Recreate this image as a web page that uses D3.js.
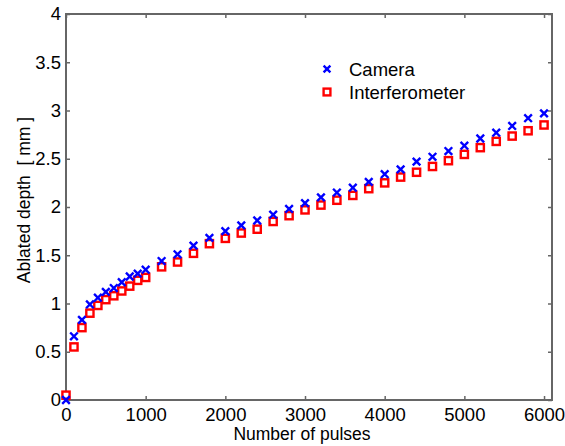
<!DOCTYPE html>
<html>
<head>
<meta charset="utf-8">
<script src="https://cdn.jsdelivr.net/npm/d3@7"></script>
<style>
  html, body { margin: 0; padding: 0; background: #fff; }
  text { font-family: "Liberation Sans", Arial, sans-serif; fill: #000; }
</style>
</head>
<body>
<svg id="chart" width="565" height="446"></svg>
<script>
const pulses = [0, 100, 200, 300, 400, 500, 600, 700, 800, 900, 1000,
  1200, 1400, 1600, 1800, 2000, 2200, 2400, 2600, 2800, 3000,
  3200, 3400, 3600, 3800, 4000, 4200, 4400, 4600, 4800, 5000,
  5200, 5400, 5600, 5800, 6000];
const camera = [0.00, 0.66, 0.83, 0.99, 1.06, 1.12, 1.16, 1.22, 1.28, 1.31, 1.35,
  1.44, 1.51, 1.60, 1.68, 1.75, 1.81, 1.86, 1.92, 1.98, 2.04,
  2.10, 2.15, 2.20, 2.26, 2.34, 2.39, 2.47, 2.52, 2.58, 2.635,
  2.71, 2.77, 2.84, 2.92, 2.97];
const interferometer = [0.05, 0.55, 0.75, 0.90, 0.98, 1.04, 1.08, 1.13, 1.18, 1.24, 1.27,
  1.38, 1.43, 1.52, 1.62, 1.675, 1.73, 1.77, 1.85, 1.91, 1.97,
  2.02, 2.07, 2.12, 2.19, 2.25, 2.31, 2.36, 2.42, 2.48, 2.545,
  2.615, 2.68, 2.735, 2.79, 2.85];
const xTicks = [0, 1000, 2000, 3000, 4000, 5000, 6000];
const yTicks = [0, 0.5, 1, 1.5, 2, 2.5, 3, 3.5, 4];
const seriesNames = ["Camera", "Interferometer"];

const svg = d3.select("#chart");
const mLeft = 66, mRight = 552, mTop = 14, mBottom = 400;
const x = d3.scaleLinear().domain([0, 6100]).range([mLeft, mRight]);
const y = d3.scaleLinear().domain([0, 4]).range([mBottom, mTop]);
const axisColor = "#666";
const fontFam = "Liberation Sans, Arial, sans-serif";

// Frame
svg.append("rect").attr("x", mLeft).attr("y", mTop)
  .attr("width", mRight - mLeft).attr("height", mBottom - mTop)
  .attr("fill", "#fff").attr("stroke", axisColor).attr("stroke-width", 2);

// Bottom axis (ticks inward)
const gx = svg.append("g").attr("transform", `translate(0,${mBottom})`)
  .call(d3.axisBottom(x).tickValues(xTicks).tickSizeInner(-4).tickSizeOuter(0).tickPadding(8).tickFormat(d3.format("d")));
gx.select(".domain").remove();
gx.selectAll("line").attr("stroke", axisColor).attr("stroke-width", 1.5);
gx.selectAll("text").style("font-size", "18.5px").attr("fill", "#000").attr("font-family", fontFam);

// Top ticks
const gxt = svg.append("g").attr("transform", `translate(0,${mTop})`)
  .call(d3.axisTop(x).tickValues(xTicks).tickSizeInner(-4).tickSizeOuter(0).tickFormat(""));
gxt.select(".domain").remove();
gxt.selectAll("line").attr("stroke", axisColor).attr("stroke-width", 1.5);

// Left axis
const gy = svg.append("g").attr("transform", `translate(${mLeft},0)`)
  .call(d3.axisLeft(y).tickValues(yTicks).tickSizeInner(-4).tickSizeOuter(0).tickPadding(5).tickFormat(d3.format("")));
gy.select(".domain").remove();
gy.selectAll("line").attr("stroke", axisColor).attr("stroke-width", 1.5);
gy.selectAll("text").style("font-size", "18.5px").attr("fill", "#000").attr("font-family", fontFam);

// Right ticks
const gyr = svg.append("g").attr("transform", `translate(${mRight},0)`)
  .call(d3.axisRight(y).tickValues(yTicks).tickSizeInner(-4).tickSizeOuter(0).tickFormat(""));
gyr.select(".domain").remove();
gyr.selectAll("line").attr("stroke", axisColor).attr("stroke-width", 1.5);

// Axis labels
svg.append("text").attr("x", 302).attr("y", 440)
  .attr("text-anchor", "middle").style("font-size", "17.5px").text("Number of pulses");
svg.append("text").attr("transform", `translate(30,200) rotate(-90)`)
  .attr("text-anchor", "middle").style("font-size", "17.5px").style("white-space", "pre")
  .text("Ablated depth  [ mm ]");

// Markers
const cross = (g, cx, cy, s) => {
  g.append("path").attr("d", `M${cx - s},${cy - s}L${cx + s},${cy + s}M${cx - s},${cy + s}L${cx + s},${cy - s}`)
    .attr("stroke", "#0000ff").attr("stroke-width", 2.4).attr("fill", "none");
};
const square = (g, cx, cy, s) => {
  g.append("rect").attr("x", cx - s).attr("y", cy - s).attr("width", 2 * s).attr("height", 2 * s)
    .attr("stroke", "#ff0000").attr("stroke-width", 2.4).attr("fill", "#fff");
};

const gi = svg.append("g");
pulses.forEach((p, i) => square(gi, x(p), y(interferometer[i]), 3.6));
const gc = svg.append("g");
pulses.forEach((p, i) => cross(gc, x(p), y(camera[i]), 3.8));

// Legend
const lg = svg.append("g");
cross(lg, 327, 69, 3.4);
square(lg, 327, 92, 3.4);
lg.append("text").attr("x", 349).attr("y", 75.5).style("font-size", "18.5px").text(seriesNames[0]);
lg.append("text").attr("x", 349).attr("y", 98.5).style("font-size", "18.5px").text(seriesNames[1]);
</script>
</body>
</html>
